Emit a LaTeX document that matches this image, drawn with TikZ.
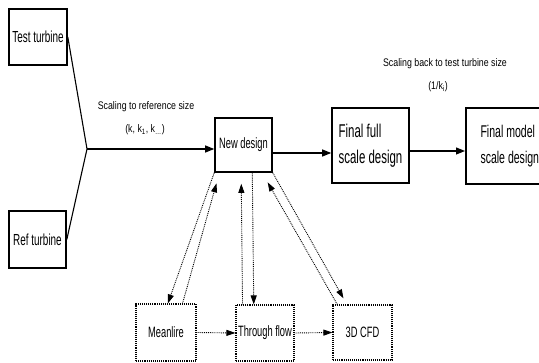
\documentclass[tikz,border=0pt]{standalone}
\usepackage{fontspec}
\setmainfont{Liberation Sans}
\newfontfamily\narrowfont{Liberation Sans}[FakeStretch=0.62]
\newfontfamily\labelfont{Liberation Sans}[FakeStretch=0.8]
\usetikzlibrary{arrows.meta,calc}
\begin{document}
\begin{tikzpicture}[x=1pt,y=-1pt,
  solidbox/.style={draw,line width=1.6pt,inner sep=0pt,align=left,font=\narrowfont},
  dotbox/.style={draw,line width=1.1pt,densely dotted,inner sep=0pt,font=\narrowfont\fontsize{15}{18}\selectfont},
  arr/.style={line width=1.1pt,-{Triangle[length=9pt,width=7pt]}},
  darr/.style={line width=0.9pt,densely dotted,-{Triangle[length=9pt,width=6pt]}},
  lbl/.style={font=\labelfont\fontsize{11}{13}\selectfont,inner sep=0pt}]
\useasboundingbox (0,0) rectangle (539,363);
% main boxes
\node[solidbox,minimum width=58pt,minimum height=56pt,font=\narrowfont\fontsize{16}{18}\selectfont] (TT) at (38,37) {Test turbine};
\node[solidbox,minimum width=57pt,minimum height=57pt,font=\narrowfont\fontsize{16}{18}\selectfont] (RT) at (37.5,239.5) {Ref turbine};
\node[solidbox,minimum width=57pt,minimum height=54pt,font=\narrowfont\fontsize{15}{18}\selectfont] (ND) at (243.5,145) {New design};
\node[solidbox,minimum width=77pt,minimum height=75pt,font=\narrowfont\fontsize{18.5}{26}\selectfont] (FF) at (370.5,145.5) {Final full\\scale design};
\node[solidbox,minimum width=83pt,minimum height=76pt,font=\narrowfont\fontsize{17}{26}\selectfont,anchor=west] (FM) at (465,146) {\hspace*{5pt}Final model\\\hspace*{5pt}scale design};
% dotted boxes
\node[dotbox,minimum width=60pt,minimum height=57pt] (ML) at (166,332.5) {Meanlire};
\node[dotbox,minimum width=58pt,minimum height=56pt] (TF) at (265,333) {Through flow};
\node[dotbox,minimum width=59pt,minimum height=55pt] (CFD) at (362.5,332.5) {3D CFD};
% labels
\node[lbl] (L1) at (146,107) {Scaling to reference size};
\node[lbl] (L2) at (145,130) {(k, k\textsubscript{1}, k\textsubscript{\ldots})};
\node[lbl] (L3) at (445,64) {Scaling back to test turbine size};
\node[lbl] (L4) at (438,87) {(1/k\textsubscript{i})};
% scaling lines
\coordinate (J) at (87,149);
\draw[line width=1.1pt] (TT.east) -- (J) -- (RT.east);
\draw[arr] (J) -- (J -| ND.west);
\draw[arr] (ND.east |- 0,153) -- (FF.west |- 0,153);
\draw[arr] (FF.east |- 0,151) -- (FM.west |- 0,151);
% bottom chain
\draw[darr] (ML.east) -- (TF.west);
\draw[darr] (TF.east) -- (CFD.west);
% diagonal loops
\draw[darr] (ND.south west) -- ($(ML.north west)!0.53!(ML.north east)$);
\draw[darr,shorten >=11pt] ($(ML.north west)!0.77!(ML.north east)$) -- ($(ND.south west)!0.09!(ND.south east)$);
\draw[darr,shorten >=11pt] ($(TF.north west)!0.12!(TF.north east)$) -- ($(ND.south west)!0.46!(ND.south east)$);
\draw[darr] ($(ND.south west)!0.65!(ND.south east)$) -- ($(TF.north west)!0.31!(TF.north east)$);
\draw[darr,shorten >=11pt] ($(CFD.north west)!0.08!(CFD.north east)$) -- ($(ND.south west)!0.82!(ND.south east)$);
\draw[darr,shorten >=7pt] (ND.south east) -- ($(CFD.north west)!0.24!(CFD.north east)$);
\end{tikzpicture}
\end{document}
